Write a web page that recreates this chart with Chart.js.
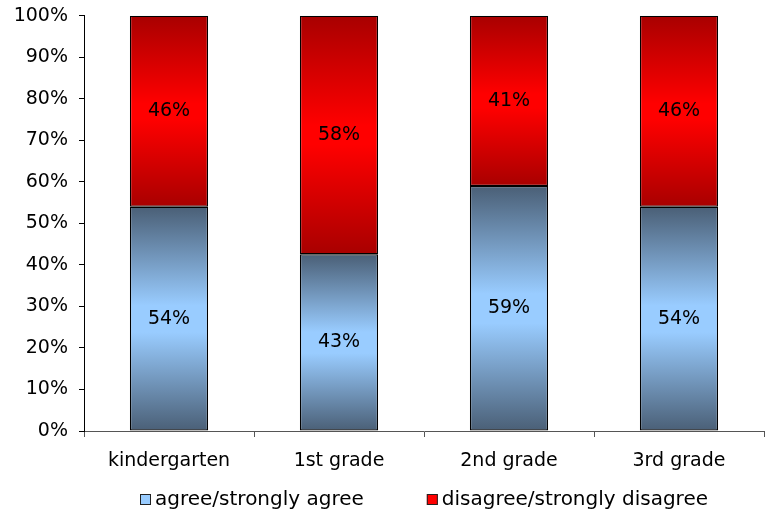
<!DOCTYPE html>
<html>
<head>
<meta charset="utf-8">
<script src="https://cdn.jsdelivr.net/npm/chart.js@4/dist/chart.umd.min.js"></script>
<style>
  html, body { margin: 0; padding: 0; background: #fff; }
  #wrap { width: 767px; height: 512px; }
</style>
</head>
<body>
<div id="wrap"><canvas id="grafico" width="767" height="512"></canvas></div>
<script>
const categorias = ['kindergarten', '1st grade', '2nd grade', '3rd grade'];
const agree = [54, 43, 59, 54];
const disagree = [46, 58, 41, 46];
const yTicks = [0, 10, 20, 30, 40, 50, 60, 70, 80, 90, 100];
const legenda = ['agree/strongly agree', 'disagree/strongly disagree'];
const coresLegenda = ['#99ccff', '#ff0000'];

// 100% stacked: each bar normalised to its total, like Excel
const totais = agree.map((v, i) => v + disagree[i]);
const agreePct = agree.map((v, i) => v / totais[i] * 100);
const disagreePct = disagree.map((v, i) => v / totais[i] * 100);

const fonte = "'DejaVu Sans', 'Liberation Sans', Arial, sans-serif";

function gradiente(ctx, escuro, claro, meio) {
  const chart = ctx.chart;
  if (!chart.chartArea || !chart.scales.y) return claro;
  const i = ctx.dataIndex;
  const ds = ctx.datasetIndex;
  const y = chart.scales.y;
  const inicio = ds === 0 ? 0 : agreePct[i];
  const fim = ds === 0 ? agreePct[i] : 100;
  const y0 = y.getPixelForValue(inicio);
  const y1 = y.getPixelForValue(fim);
  if (!isFinite(y0) || !isFinite(y1) || y0 === y1) return claro;
  const g = chart.ctx.createLinearGradient(0, y1, 0, y0);
  g.addColorStop(0, escuro);
  g.addColorStop(0.5 - meio, claro);
  g.addColorStop(0.5 + meio, claro);
  g.addColorStop(1, escuro);
  return g;
}

// valores em cima das barras
const rotulos = {
  id: 'rotulos',
  afterDatasetsDraw(chart) {
    const ctx = chart.ctx;
    ctx.save();
    ctx.font = '19px ' + fonte;
    ctx.fillStyle = '#000';
    ctx.textAlign = 'center';
    ctx.textBaseline = 'middle';
    const brutos = [agree, disagree];
    chart.data.datasets.forEach((ds, d) => {
      chart.getDatasetMeta(d).data.forEach((bar, i) => {
        const meio = (bar.y + bar.base) / 2;
        ctx.fillText(brutos[d][i] + '%', bar.x, meio);
      });
    });
    ctx.restore();
  }
};

// legenda centrada sob a área do gráfico, com espaço largo entre itens
const legendaBaixo = {
  id: 'legendaBaixo',
  afterDraw(chart) {
    const ctx = chart.ctx;
    const area = chart.chartArea;
    ctx.save();
    ctx.font = '20px ' + fonte;
    ctx.textBaseline = 'middle';
    ctx.textAlign = 'left';
    const caixa = 11, folga = 4, espaco = 63;
    const larguras = legenda.map(t => ctx.measureText(t).width);
    const total = larguras.reduce((s, w) => s + caixa + folga + w, 0) + espaco;
    let x = Math.round((area.left + area.right) / 2 - total / 2);
    const yc = area.bottom + 68.5;
    legenda.forEach((t, i) => {
      ctx.fillStyle = coresLegenda[i];
      ctx.fillRect(x, yc - caixa / 2, caixa, caixa);
      ctx.strokeStyle = '#222';
      ctx.lineWidth = 1;
      ctx.strokeRect(x + 0.5, yc - caixa / 2 + 0.5, caixa - 1, caixa - 1);
      ctx.fillStyle = '#000';
      ctx.fillText(t, x + caixa + folga, yc);
      x += caixa + folga + larguras[i] + espaco;
    });
    ctx.restore();
  }
};

new Chart(document.getElementById('grafico'), {
  type: 'bar',
  data: {
    labels: categorias,
    datasets: [
      {
        label: legenda[0],
        data: agreePct,
        backgroundColor: (c) => gradiente(c, '#4a5f76', '#99ccff', 0.06),
        borderColor: '#000',
        borderWidth: 1.3,
        borderSkipped: false
      },
      {
        label: legenda[1],
        data: disagreePct,
        backgroundColor: (c) => gradiente(c, '#a80000', '#ff0000', 0.04),
        borderColor: '#000',
        borderWidth: 1.3,
        borderSkipped: false
      }
    ]
  },
  options: {
    responsive: false,
    animation: false,
    layout: { padding: { top: 0, right: 3, left: 0, bottom: 35 } },
    datasets: { bar: { categoryPercentage: 1, barPercentage: 0.46 } },
    plugins: {
      tooltip: { enabled: false },
      legend: { display: false }
    },
    scales: {
      x: {
        stacked: true,
        afterFit: (s) => { s.height = 46; },
        grid: { offset: true, drawOnChartArea: false, color: '#555', tickLength: 6 },
        border: { color: '#555', width: 1 },
        ticks: { color: '#000', font: { family: fonte, size: 19 }, padding: 13 }
      },
      y: {
        stacked: true,
        min: 0,
        max: 100,
        afterFit: (s) => { s.width = 84; },
        afterBuildTicks: (s) => { s.ticks = yTicks.map(v => ({ value: v })); },
        grid: { drawOnChartArea: false, color: '#000', tickLength: 5 },
        border: { color: '#000', width: 1 },
        ticks: { color: '#000', font: { family: fonte, size: 19, lineHeight: 0.5 }, padding: 11, callback: (v) => v + '%' }
      }
    }
  },
  plugins: [rotulos, legendaBaixo]
});
</script>
</body>
</html>
